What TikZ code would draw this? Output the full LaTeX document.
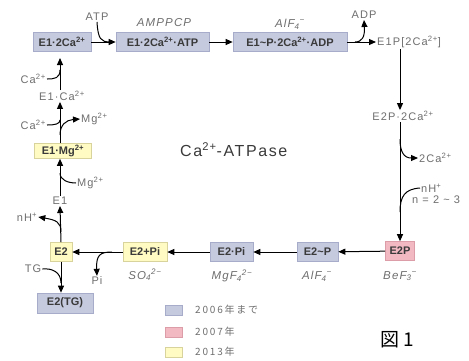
\documentclass[tikz,border=0pt]{standalone}
\usepackage{fontspec}
\setmainfont{Liberation Sans}
\newfontfamily\labfont[LetterSpace=10]{Liberation Sans}
\newfontfamily\jpfont{Noto Sans CJK JP}
\newfontfamily\jplegfont[LetterSpace=18]{Noto Sans CJK JP}
\usetikzlibrary{arrows.meta}
\definecolor{bluefill}{HTML}{C6CADF}
\definecolor{blueline}{HTML}{A7ACCB}
\definecolor{pinkfill}{HTML}{F2B9C3}
\definecolor{pinkline}{HTML}{DC9CA8}
\definecolor{yelfill}{HTML}{FFFBC2}
\definecolor{yelline}{HTML}{D8D39C}
\definecolor{lbl}{HTML}{6E6E6E}
\definecolor{boxtxt}{HTML}{3A3A3A}
\tikzset{
  statebox/.style={draw=#1line, fill=#1fill, line width=0.6pt, inner sep=0pt,
    minimum height=19pt, text=boxtxt, font=\fontsize{11}{12}\selectfont\bfseries},
  lab/.style={text=lbl, inner sep=1pt, font=\labfont\fontsize{11}{12}\selectfont},
  ilab/.style={lab, font=\labfont\fontsize{11.5}{12}\selectfont\itshape},
  arr/.style={line width=1pt, -{Triangle[length=7pt,width=6pt]}},
  ln/.style={line width=1pt},
  legsq/.style={draw=#1line, fill=#1fill, line width=0.5pt, minimum width=17pt, minimum height=10pt, inner sep=0pt},
  legtxt/.style={text=lbl, anchor=west, inner sep=0pt, font=\jplegfont\fontsize{10}{11}\selectfont}
}
\newcommand{\sups}[1]{\textsuperscript{#1}}
\begin{document}
\begin{tikzpicture}[x=1pt,y=-1pt]
\useasboundingbox (0,0) rectangle (469,360);

% top row
\node[statebox=blue, minimum width=58pt] (b1) at (62,42) {E1·2Ca\sups{2+}};
\node[statebox=blue, minimum width=93pt] (b2) at (162.5,42) {E1·2Ca\sups{2+}·ATP};
\node[statebox=blue, minimum width=114pt] (b3) at (290,42) {E1\textasciitilde P·2Ca\sups{2+}·ADP};
\node[lab, anchor=west] (e1p) at (376,42) {E1P[2Ca\sups{2+}]};
\node[lab] (atp) at (97,17) {ATP};
\node[ilab] (amppcp) at (164,23) {AMPPCP};
\node[ilab] (alf1) at (290,24) {AlF\textsubscript{4}\sups{−}};
\node[lab] (adp) at (364,15) {ADP};

\draw[arr] (b1) -- (b2);
\draw[arr] (b2) -- (b3);
\draw[arr] (b3) -- (e1p);
\coordinate (jatp) at (110,42);
\draw[ln] (atp.south) .. controls (98,39) and (101,42) .. (jatp);
\coordinate (jadp) at (355,42);
\draw[arr] (jadp) .. controls (362,42) and (365,37) .. (adp.south);

% right column
\node[lab] (e2p2ca) at (403,116) {E2P·2Ca\sups{2+}};
\node[statebox=pink, minimum width=29pt] (e2p) at (400,251) {E2P};
\draw[arr] (e1p.south -| e2p.north) -- (e2p2ca.north -| e2p.north);
\draw[arr] (e2p2ca.south -| e2p.north) -- (e2p.north);
\node[lab, anchor=west] (ca2out) at (418,158) {2Ca\sups{2+}};
\coordinate (jca2) at (400,139);
\draw[arr] (jca2) .. controls (400,152) and (404,158) .. (ca2out.west);
\node[lab, anchor=west] (nh1) at (420,188) {nH\sups{+}};
\node[lab, anchor=west] (nval) at (411,200) {n = 2 \textasciitilde\ 3};
\coordinate (jnh1) at (400,212);
\draw[ln] (nh1.west) .. controls (405,189) and (400,196) .. (jnh1);

% bottom row
\node[statebox=blue, minimum width=41pt] (e2tp) at (317.5,252) {E2\textasciitilde P};
\node[statebox=blue, minimum width=43pt] (e2pi) at (231.5,252) {E2·Pi};
\node[statebox=yel, minimum width=44pt] (e2ppi) at (145,252) {E2+Pi};
\node[statebox=yel, minimum width=22pt] (e2) at (61,252) {E2};
\node[statebox=blue, minimum width=56pt, minimum height=20pt] (e2tg) at (65,303) {E2(TG)};
\node[ilab] (bef) at (400,276) {BeF\textsubscript{3}\sups{−}};
\node[ilab] (alf2) at (317,276) {AlF\textsubscript{4}\sups{−}};
\node[ilab] (mgf) at (232,276) {MgF\textsubscript{4}\sups{2−}};
\node[ilab] (so4) at (145,275) {SO\textsubscript{4}\sups{2−}};
\node[lab] (pi) at (97,281) {Pi};
\node[lab] (tg) at (33,269) {TG};

\draw[arr] (e2p) -- (e2tp);
\draw[arr] (e2tp) -- (e2pi);
\draw[arr] (e2pi) -- (e2ppi);
\draw[arr] (e2ppi) -- (e2);
\coordinate (jpi) at (112,252);
\draw[arr] (jpi) .. controls (100,252) and (96,255) .. (pi.north);
\coordinate (jtg) at (61,283);
\draw[arr] (e2.south) -- (e2tg.north -| e2.south);
\draw[ln] (tg.east) .. controls (52,268) and (61,272) .. (jtg);

% left column
\node[lab] (e1) at (60,201) {E1};
\node[lab] (nh2) at (27,217) {nH\sups{+}};
\draw[arr] (e2.north) -- (e1.south);
\coordinate (jnh2) at (61,232);
\draw[arr] (jnh2) .. controls (61,222) and (56,220) .. (nh2.east);

\node[statebox=yel, minimum width=57pt, minimum height=15pt] (e1mg) at (63,151) {E1·Mg\sups{2+}};
\node[lab, anchor=west] (mgin) at (76,183) {Mg\sups{2+}};
\draw[arr] (e1.north) -- (e1mg.south -| e1.north);
\coordinate (jmg) at (60,173);
\draw[ln] (mgin.west) .. controls (68,183) and (60,180) .. (jmg);

\node[lab] (e1ca) at (62,96) {E1·Ca\sups{2+}};
\node[lab, anchor=east] (cain2) at (47,125) {Ca\sups{2+}};
\node[lab, anchor=west] (mgout) at (80,119) {Mg\sups{2+}};
\draw[arr] (e1mg.north -| e1.north) -- (e1ca.south -| e1.north);
\coordinate (jca2in) at (60,120);
\draw[ln] (cain2.east) .. controls (55,125) and (60,124) .. (jca2in);
\coordinate (jmgout) at (60,135);
\draw[arr] (jmgout) .. controls (60,125) and (66,120) .. (mgout.west);

\node[lab, anchor=east] (cain1) at (47,79) {Ca\sups{2+}};
\coordinate (e1top) at (60,58);
\draw[arr] (e1ca.north -| e1.north) -- (e1top);
\coordinate (jca1) at (60,70);
\draw[ln] (cain1.east) .. controls (55,79) and (60,78) .. (jca1);

% title
\node[text=boxtxt, anchor=west, inner sep=0pt, font=\labfont\fontsize{16}{18}\selectfont] (title) at (180,150) {Ca\sups{2+}-ATPase};

% legend
\node[legsq=blue] (sq1) at (174,310) {};
\node[legsq=pink] (sq2) at (174,332) {};
\node[legsq=yel] (sq3) at (174,352) {};
\node[legtxt] (t1) at (195,310) {2006年まで};
\node[legtxt] (t2) at (195,332) {2007年};
\node[legtxt] (t3) at (195,352) {2013年};
\node[font=\jpfont\fontsize{19}{21}\selectfont, inner sep=0pt] (fig) at (397,340) {図 1};
\end{tikzpicture}
\end{document}
